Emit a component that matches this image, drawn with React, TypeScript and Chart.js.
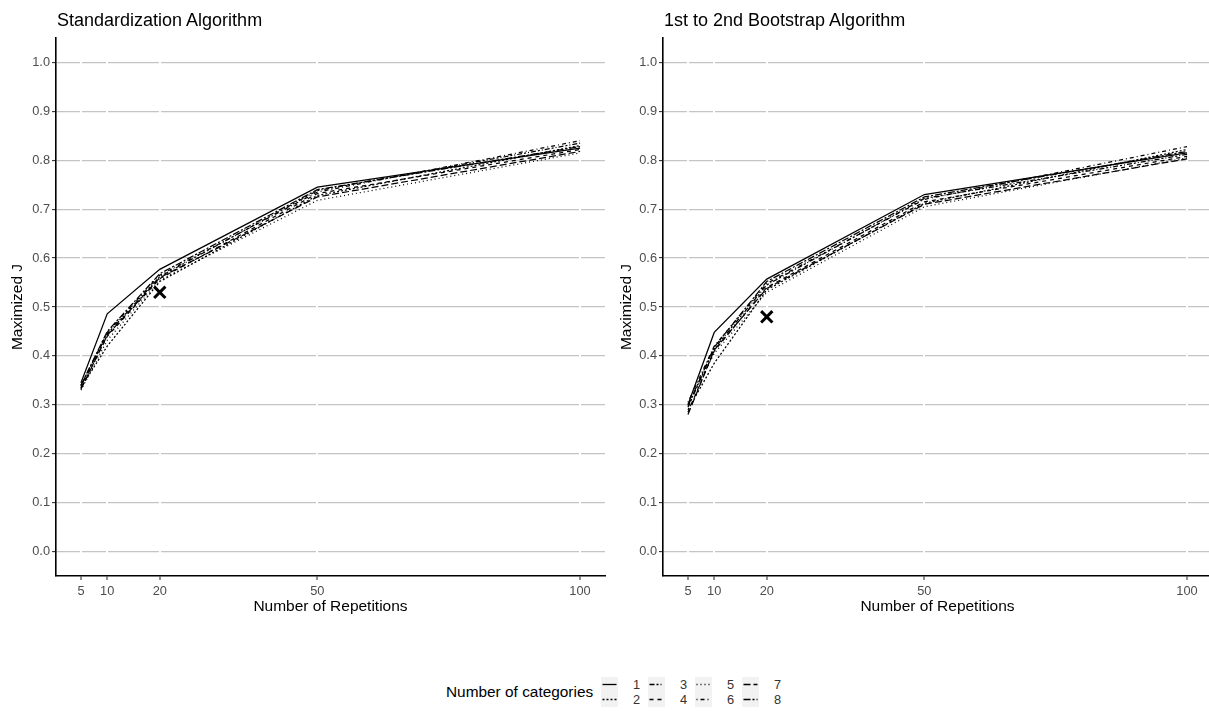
import React, { useEffect, useRef } from "react";
import { Chart, registerables } from "chart.js";

Chart.register(...registerables);

// ---------- data ----------
const repetitions = [5, 10, 20, 50, 100];
const categoryLabels = ["1", "2", "3", "4", "5", "6", "7", "8"];
const xTickValues = [5, 10, 20, 50, 100];
const yTickValues = [0, 0.1, 0.2, 0.3, 0.4, 0.5, 0.6, 0.7, 0.8, 0.9, 1.0];

// Standardization Algorithm
const std1 = [0.345, 0.486, 0.577, 0.745, 0.825];
const std2 = [0.335, 0.42, 0.552, 0.728, 0.83];
const std3 = [0.34, 0.445, 0.562, 0.738, 0.835];
const std4 = [0.335, 0.44, 0.558, 0.732, 0.822];
const std5 = [0.33, 0.432, 0.555, 0.718, 0.815];
const std6 = [0.338, 0.448, 0.565, 0.735, 0.84];
const std7 = [0.332, 0.442, 0.56, 0.725, 0.818];
const std8 = [0.34, 0.45, 0.568, 0.74, 0.828];

// 1st to 2nd Bootstrap Algorithm
const boot1 = [0.3, 0.448, 0.557, 0.73, 0.815];
const boot2 = [0.29, 0.385, 0.535, 0.712, 0.822];
const boot3 = [0.295, 0.415, 0.545, 0.722, 0.812];
const boot4 = [0.285, 0.41, 0.54, 0.715, 0.808];
const boot5 = [0.3, 0.405, 0.53, 0.705, 0.805];
const boot6 = [0.305, 0.42, 0.548, 0.72, 0.828];
const boot7 = [0.28, 0.412, 0.538, 0.71, 0.803];
const boot8 = [0.298, 0.418, 0.552, 0.725, 0.818];

// single highlighted point (X marker)
const markerX = [20];
const markerStdY = [0.53];
const markerBootY = [0.48];

// ---------- styles ----------
const dashes: number[][] = [
  [],
  [2, 2],
  [5, 2, 2, 2, 1, 2],
  [4, 4],
  [1, 3],
  [1, 3, 4, 3],
  [7, 3],
  [7, 2, 2, 2],
];

const FONT = "'Liberation Sans', Arial, sans-serif";
const TICK_COLOR = "#4d4d4d";
const CANVAS_W = 610;
const CANVAS_H = 625;
const PANEL_W = 549;

type PanelProps = {
  series: number[][];
  markerY: number[];
  left: number;
  yAxisWidth: number;
  yTitlePad: number;
};

function Panel({ series, markerY, left, yAxisWidth, yTitlePad }: PanelProps) {
  const ref = useRef<HTMLCanvasElement>(null);
  useEffect(() => {
    if (!ref.current) return;
    const datasets: any[] = series.map((vals, i) => ({
      type: "line",
      label: categoryLabels[i],
      data: repetitions.map((x, j) => ({ x, y: vals[j] })),
      borderColor: "#000",
      borderWidth: 1.25,
      borderDash: dashes[i],
      pointRadius: 0,
      fill: false,
      tension: 0,
    }));
    datasets.push({
      type: "scatter",
      label: "marker",
      data: markerX.map((x, i) => ({ x, y: markerY[i] })),
      pointStyle: "crossRot",
      pointRadius: 8,
      borderWidth: 3,
      borderColor: "#000",
      backgroundColor: "#000",
      showLine: false,
    });
    const chart = new Chart(ref.current, {
      type: "line",
      data: { datasets },
      options: {
        animation: false,
        responsive: false,
        layout: {
          autoPadding: false,
          padding: { top: 38, right: CANVAS_W - yAxisWidth - PANEL_W, left: 0, bottom: 0 },
        },
        plugins: {
          legend: { display: false },
          tooltip: { enabled: false },
          title: { display: false },
        },
        scales: {
          x: {
            type: "linear",
            min: 0.25,
            max: 104.75,
            afterBuildTicks: (s: any) => {
              s.ticks = xTickValues.map((v) => ({ value: v }));
            },
            afterFit: (s: any) => {
              s.height = 49;
              s.paddingLeft = 0;
              s.paddingRight = 0;
            },
            ticks: {
              autoSkip: false,
              maxRotation: 0,
              minRotation: 0,
              padding: 4,
              color: TICK_COLOR,
              font: { family: FONT, size: 12.8 },
              callback: (v: any) => String(v),
            },
            grid: {
              color: "#ffffff",
              lineWidth: 2,
              tickColor: "#333",
              tickWidth: 1.1,
              tickLength: 4,
              z: -1,
            },
            border: { display: true, color: "#000", width: 1.6 },
            title: {
              display: true,
              text: "Number of Repetitions",
              color: "#000",
              font: { family: FONT, size: 15.5 },
              padding: { top: 0, bottom: 8.7 },
            },
          },
          y: {
            type: "linear",
            min: -0.05,
            max: 1.05,
            afterBuildTicks: (s: any) => {
              s.ticks = yTickValues.map((v) => ({ value: v }));
            },
            afterFit: (s: any) => {
              s.width = yAxisWidth;
            },
            ticks: {
              autoSkip: false,
              padding: 2,
              color: TICK_COLOR,
              font: { family: FONT, size: 12.8 },
              callback: (v: any) => Number(v).toFixed(1),
            },
            grid: {
              color: "#c4c4c4",
              lineWidth: 1.2,
              tickColor: "#333",
              tickWidth: 1.1,
              tickLength: 4,
              z: -2,
            },
            border: { display: true, color: "#000", width: 1.6 },
            title: {
              display: true,
              text: "Maximized J",
              color: "#000",
              font: { family: FONT, size: 15.5 },
              padding: { top: yTitlePad, bottom: 0 },
            },
          },
        },
      } as any,
    });
    return () => chart.destroy();
  }, []);
  return (
    <canvas
      ref={ref}
      width={CANVAS_W}
      height={CANVAS_H}
      style={{ position: "absolute", left, top: 0, width: CANVAS_W, height: CANVAS_H }}
    />
  );
}

function LegendKey({ dash }: { dash: number[] }) {
  return (
    <svg width={17} height={15} style={{ display: "block" }}>
      <rect x={0} y={0} width={17} height={15} fill="#f2f2f2" />
      <line
        x1={1.5}
        y1={7.5}
        x2={15.5}
        y2={7.5}
        stroke="#000"
        strokeWidth={1.3}
        strokeDasharray={dash.length ? dash.join(" ") : undefined}
      />
    </svg>
  );
}

export default function App() {
  const stdSeries = [std1, std2, std3, std4, std5, std6, std7, std8];
  const bootSeries = [boot1, boot2, boot3, boot4, boot5, boot6, boot7, boot8];
  return (
    <div
      style={{
        position: "fixed",
        left: 0,
        top: 0,
        width: 1209,
        height: 711,
        overflow: "hidden",
        background: "#fff",
        fontFamily: FONT,
      }}
    >
      <Panel series={stdSeries} markerY={markerStdY} left={0} yAxisWidth={56} yTitlePad={8.7} />
      <Panel series={bootSeries} markerY={markerBootY} left={606} yAxisWidth={57} yTitlePad={11.7} />
      <div style={{ position: "absolute", left: 57, top: 11, fontSize: 18, lineHeight: "18px", color: "#000", whiteSpace: "nowrap" }}>
        Standardization Algorithm
      </div>
      <div style={{ position: "absolute", left: 664, top: 11, fontSize: 18, lineHeight: "18px", color: "#000", whiteSpace: "nowrap" }}>
        1st to 2nd Bootstrap Algorithm
      </div>
      <div style={{ position: "absolute", left: 446, top: 683, fontSize: 15.4, lineHeight: "17px", color: "#000", whiteSpace: "nowrap" }}>
        Number of categories
      </div>
      {categoryLabels.map((lab, i) => {
        const col = Math.floor(i / 2);
        const row = i % 2;
        const x = 601 + col * 47;
        const y = 677 + row * 15;
        return (
          <React.Fragment key={lab}>
            <div style={{ position: "absolute", left: x, top: y }}>
              <LegendKey dash={dashes[i]} />
            </div>
            <div
              style={{
                position: "absolute",
                left: x + 32,
                top: y,
                fontSize: 12.8,
                lineHeight: "15px",
                color: "#333",
              }}
            >
              {lab}
            </div>
          </React.Fragment>
        );
      })}
    </div>
  );
}
